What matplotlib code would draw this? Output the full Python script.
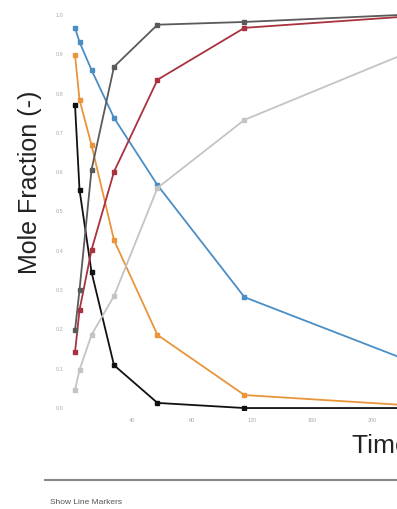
import matplotlib.pyplot as plt

# Sampling times and mole fractions of each species
time = [2, 5, 13, 28, 57, 115, 220]
species_a = [0.967, 0.931, 0.860, 0.738, 0.567, 0.282, 0.127]
species_b = [0.898, 0.784, 0.669, 0.427, 0.186, 0.033, 0.008]
species_c = [0.771, 0.555, 0.346, 0.109, 0.013, 0.0, 0.0]
species_d = [0.142, 0.249, 0.402, 0.601, 0.835, 0.967, 0.995]
species_e = [0.198, 0.300, 0.606, 0.868, 0.975, 0.982, 1.0]
species_f = [0.046, 0.097, 0.186, 0.285, 0.560, 0.733, 0.898]

series = [
    (species_a, '#4a8ec6'),
    (species_b, '#e8953c'),
    (species_c, '#111111'),
    (species_d, '#a8323e'),
    (species_e, '#5a5a5a'),
    (species_f, '#c4c4c4'),
]

yticks = [0.0, 0.1, 0.2, 0.3, 0.4, 0.5, 0.6, 0.7, 0.8, 0.9, 1.0]
xticks = [40, 80, 120, 160, 200]

plt.rcParams['font.family'] = ['Liberation Sans', 'DejaVu Sans']

fig = plt.figure(figsize=(3.97, 5.09), dpi=100)
ax = fig.add_axes([0.1814, 0.1945, 1.657, 0.896])

for values, color in series:
    ax.plot(time, values, color=color, lw=1.3, marker='s', ms=3.5,
            markeredgecolor=color, markerfacecolor=color)

ax.set_xlim(0, 438.7)
ax.set_ylim(-0.005, 1.155)
ax.set_xticks(xticks)
ax.set_yticks(yticks)
ax.set_xticklabels([str(t) for t in xticks], fontsize=4, color='#aaaaaa')
ax.set_yticklabels([f'{v:.1f}' for v in yticks], fontsize=4, color='#aaaaaa')
ax.tick_params(length=0, pad=6)
for side in ['top', 'right', 'left', 'bottom']:
    ax.spines[side].set_visible(False)

ax.set_xlabel('Time (h)', fontsize=19, color='#222222', labelpad=8)
ax.set_ylabel('Mole Fraction (-)', fontsize=18, color='#222222', labelpad=10)

# separator line and caption under the chart
fig.add_artist(plt.Line2D([45 / 397, 1.0], [1 - 480 / 509] * 2,
                          color='#888888', lw=1.5))
fig.text(50 / 397, 1 - 502 / 509, 'Show Line Markers', fontsize=6,
         color='#555555', va='center')

fig.savefig('out.png', dpi=100)
